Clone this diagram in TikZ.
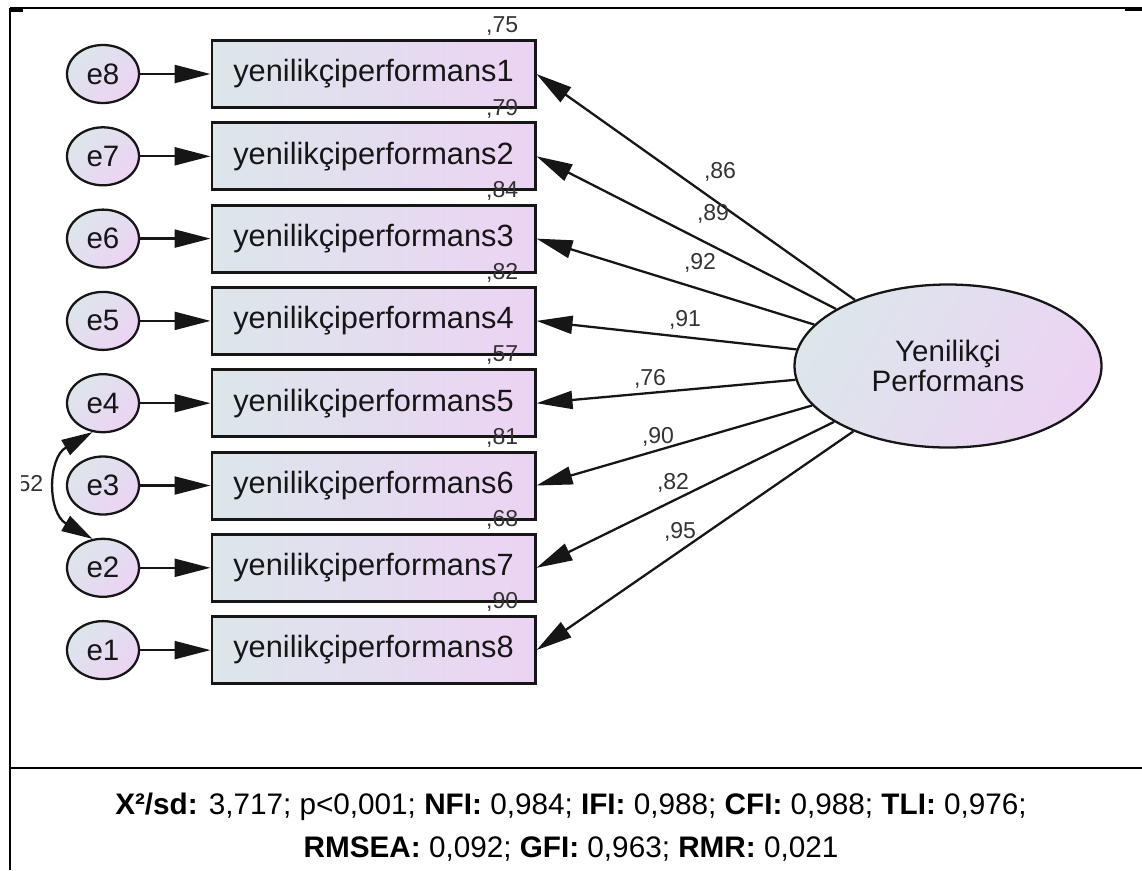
\documentclass[tikz,border=0pt]{standalone}
\usepackage{fontspec}
\setmainfont{Liberation Sans}
\usetikzlibrary{arrows.meta, shapes.geometric, positioning}
\definecolor{ink}{HTML}{161616}
\definecolor{inkn}{HTML}{333333}
\definecolor{shl}{HTML}{DCE6EB}
\definecolor{shr}{HTML}{ECD3F3}
\tikzset{
  obs/.style={draw=ink, line width=1.7pt, left color=shl, right color=shr, minimum width=6.46cm, minimum height=1.34cm, inner sep=0pt, text=ink, font=\fontsize{17.5}{20}\selectfont},
  err/.style={ellipse, draw=ink, line width=1.3pt, top color=shl, bottom color=shr, shading angle=45, minimum width=1.44cm, minimum height=1.16cm, inner sep=0pt, text=ink, font=\fontsize{16.8}{19}\selectfont},
  latv/.style={ellipse, draw=ink, line width=1.3pt, top color=shl, bottom color=shr, shading angle=60, minimum width=6.14cm, minimum height=3.26cm, inner sep=0pt, align=center, text=ink, font=\fontsize{16.8}{15.4}\selectfont},
  load/.style={-{Triangle[length=0.72cm, width=0.36cm]}, draw=ink, line width=1.3pt},
  covar/.style={{Triangle[length=0.62cm, width=0.34cm]}-{Triangle[length=0.62cm, width=0.34cm]}, draw=ink, line width=1.3pt},
  num/.style={text=inkn, inner sep=0pt, font=\fontsize{13.1}{15}\selectfont},
  frame/.style={draw=black, line width=1.2pt},
  fitline/.style={anchor=base, inner sep=0pt, font=\fontsize{16.9}{19}\selectfont}
}

\begin{document}
\begin{tikzpicture}
  \useasboundingbox (0,0) rectangle (22.84,-17.4);
  % table frame
  \draw[frame] (0.2,-0.16) -- (22.84,-0.16);
  \draw[line width=2.2pt] (0.2,-0.2) -- (0.46,-0.2);
  \draw[line width=2.2pt] (22.5,-0.19) -- (22.84,-0.19);
  \draw[frame] (0.2,-0.16) -- (0.2,-17.4);
  \draw[frame] (0.2,-15.36) -- (22.84,-15.36);

  \node[latv] (lat) at (18.96,-7.32) {Yenilikçi\\Performans};

  % indicators, errors, squared multiple correlations
  \foreach \i/\r in {1/75,2/79,3/84,4/82,5/57,6/81,7/68,8/90}{
    \pgfmathsetmacro\yy{-1.48-1.646*(\i-1)}
    \pgfmathtruncatemacro\ee{9-\i}
    \node[obs] (b\i) at (7.47,\yy) {yenilikçiperformans\i};
    \node[err] (e\ee) at (2.06,\yy) {e\ee};
    \draw[load] (e\ee) -- (b\i);
    \draw[load] (lat) -- (b\i.east);
    \node[num, above left=0.06cm and 0.36cm of b\i.north east] (r\i) {,\r};
  }

  % loadings
  \foreach \i/\v/\x/\y in {1/86/720/172, 2/89/713/214, 3/92/700/263, 4/91/685/320,
                           5/76/650/379, 6/90/658/437, 7/82/673/483, 8/95/680/532}{
    \node[num] (l\i) at (\x/50,-\y/50) {,\v};
  }

  % e4 <-> e2
  \draw[covar] (e4.250) to[out=210, in=150, looseness=1.25] (e2.110);
  \begin{scope}
    \clip (0.42,-9.2) rectangle (1.2,-10.2);
    \node[num, anchor=east] (c42) at (0.87,-9.7) {,52};
  \end{scope}

  % fit indices
  \node[fitline] (fit1) at (11.42,-16.28) {\textbf{X²/sd:} 3,717; p<0,001; \textbf{NFI:} 0,984; \textbf{IFI:} 0,988; \textbf{CFI:} 0,988; \textbf{TLI:} 0,976;};
  \node[fitline] (fit2) at (11.42,-17.15) {\textbf{RMSEA:} 0,092; \textbf{GFI:} 0,963; \textbf{RMR:} 0,021};
\end{tikzpicture}
\end{document}
